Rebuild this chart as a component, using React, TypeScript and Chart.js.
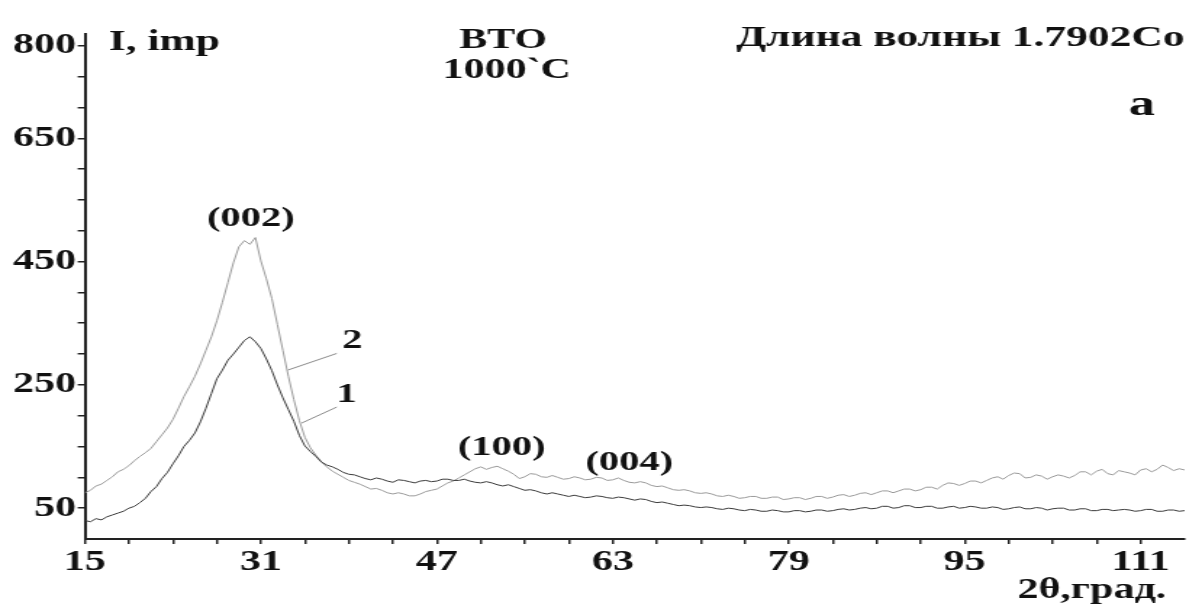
import { useEffect, useRef } from "react";
import { Chart, registerables } from "chart.js";

Chart.register(...registerables);

// 2θ positions (degrees) of the sampled diffraction profile
const twoTheta = [
  15, 15.5, 16, 16.5, 17, 17.5, 18, 18.5, 19, 19.5, 20, 20.5, 21, 21.5, 22, 22.5, 23, 23.5, 24, 24.5,
  25, 25.5, 26, 26.5, 27, 27.5, 28, 28.5, 29, 29.5, 30, 30.5, 31, 31.5, 32, 32.5, 33, 33.5, 34, 34.5,
  35, 35.5, 36, 36.5, 37, 37.5, 38, 38.5, 39, 39.5, 40, 40.5, 41, 41.5, 42, 42.5, 43, 43.5, 44, 44.5,
  45, 45.5, 46, 46.5, 47, 47.5, 48, 48.5, 49, 49.5, 50, 50.5, 51, 51.5, 52, 52.5, 53, 53.5, 54, 54.5,
  55, 55.5, 56, 56.5, 57, 57.5, 58, 58.5, 59, 59.5, 60, 60.5, 61, 61.5, 62, 62.5, 63, 63.5, 64, 64.5,
  65, 65.5, 66, 66.5, 67, 67.5, 68, 68.5, 69, 69.5, 70, 70.5, 71, 71.5, 72, 72.5, 73, 73.5, 74, 74.5,
  75, 75.5, 76, 76.5, 77, 77.5, 78, 78.5, 79, 79.5, 80, 80.5, 81, 81.5, 82, 82.5, 83, 83.5, 84, 84.5,
  85, 85.5, 86, 86.5, 87, 87.5, 88, 88.5, 89, 89.5, 90, 90.5, 91, 91.5, 92, 92.5, 93, 93.5, 94, 94.5,
  95, 95.5, 96, 96.5, 97, 97.5, 98, 98.5, 99, 99.5, 100, 100.5, 101, 101.5, 102, 102.5, 103, 103.5, 104, 104.5,
  105, 105.5, 106, 106.5, 107, 107.5, 108, 108.5, 109, 109.5, 110, 110.5, 111, 111.5, 112, 112.5, 113, 113.5, 114, 114.5,
  115,
];

// Curve 1 intensity, imp
const intensity1 = [
  30, 28, 33, 31, 36, 39, 42, 45, 50, 53, 59, 66, 77, 85, 98, 108, 122, 135, 150, 160,
  172, 190, 212, 236, 260, 274, 290, 300, 311, 322, 328, 320, 309, 292, 273, 250, 229, 210, 191, 168,
  151, 142, 134, 125, 120, 117, 113, 108, 105, 104, 101, 98, 96, 99, 97, 94, 92, 96, 95, 93,
  91, 94, 95, 93, 94, 97, 97, 95, 95, 97, 94, 92, 91, 93, 91, 88, 86, 88, 85, 82,
  79, 80, 78, 75, 73, 75, 73, 71, 69, 71, 69, 67, 68, 70, 69, 67, 66, 68, 67, 65,
  63, 65, 64, 61, 59, 60, 58, 56, 54, 55, 54, 52, 51, 52, 51, 49, 48, 50, 49, 47,
  46, 48, 47, 45, 45, 47, 46, 44, 44, 46, 46, 44, 45, 47, 47, 45, 46, 48, 49, 47,
  48, 50, 51, 49, 50, 53, 53, 50, 51, 54, 54, 51, 51, 53, 53, 50, 50, 52, 53, 50,
  51, 53, 52, 50, 50, 52, 51, 48, 49, 51, 52, 49, 49, 51, 50, 47, 49, 50, 50, 47,
  47, 49, 49, 46, 46, 48, 48, 46, 47, 48, 47, 45, 46, 48, 48, 45, 45, 47, 47, 45,
  46,
];

// Curve 2 intensity, imp
const intensity2 = [
  75, 79, 86, 89, 95, 101, 109, 113, 119, 127, 134, 140, 147, 158, 169, 180, 194, 212, 231, 247,
  264, 284, 306, 328, 354, 384, 416, 448, 474, 484, 478, 489, 451, 422, 390, 348, 306, 264, 226, 192,
  165, 148, 136, 125, 117, 110, 105, 100, 95, 92, 89, 85, 81, 82, 79, 75, 73, 75, 73, 70,
  70, 73, 77, 79, 81, 86, 91, 94, 99, 104, 109, 114, 117, 113, 116, 118, 114, 110, 105, 98,
  101, 106, 105, 101, 100, 103, 100, 97, 98, 101, 99, 96, 97, 100, 99, 95, 96, 99, 95, 92,
  91, 93, 91, 87, 85, 86, 83, 80, 79, 80, 78, 75, 74, 75, 73, 70, 69, 71, 69, 66,
  67, 69, 69, 66, 66, 68, 68, 64, 65, 67, 67, 64, 66, 69, 69, 66, 68, 71, 72, 69,
  71, 74, 75, 72, 75, 78, 78, 75, 78, 81, 81, 78, 80, 84, 84, 81, 87, 91, 90, 87,
  90, 94, 94, 91, 95, 99, 101, 97, 103, 107, 106, 99, 100, 104, 102, 97, 101, 104, 102, 99,
  103, 109, 109, 104, 110, 113, 106, 104, 111, 109, 107, 104, 112, 114, 109, 113, 120, 116, 111, 114,
  112,
];

// Axis ticks
const xTickValues = [15, 19, 23, 27, 31, 35, 39, 43, 47, 51, 55, 59, 63, 67, 71, 75, 79, 83, 87, 91, 95, 99, 103, 107, 111];
const xTickLabels = [15, 31, 47, 63, 79, 95, 111];
const yTickValues = [50, 100, 150, 200, 250, 300, 350, 400, 450, 500, 550, 600, 650, 700, 750, 800];
const yTickLabels = [50, 250, 450, 650, 800];

// Reflection indices, anchored at (2θ, intensity)
const peakNames = ["(002)", "(100)", "(004)"];
const peakAt2Theta = [30.1, 52.9, 64.5];
const peakLabelLevel = [507, 136, 112];

// Curve numbers with leader lines
const curveNames = ["2", "1"];
const curveLabelAt = [[39.3, 310], [38.8, 222]];
const leaderFrom = [[33.45, 274], [34.7, 188]];
const leaderTo = [[37.9, 301], [37.9, 214]];

// Canvas drawn narrow, then widened by CSS (wide serif lettering)
const DRAW_W = 820;
const DRAW_H = 615;
const SHOW_W = 1189;

const SERIF = '"Liberation Serif", "Times New Roman", serif';

const annotations = {
  id: "xrdAnnotations",
  afterDraw(chart: any) {
    const { ctx, scales } = chart;
    const xs = scales.x;
    const ys = scales.y;
    const px = (t: number) => xs.getPixelForValue(t);
    const py = (v: number) => ys.getPixelForValue(v);
    ctx.save();
    ctx.fillStyle = "#111";
    ctx.textBaseline = "alphabetic";

    // header
    ctx.font = `bold 30px ${SERIF}`;
    ctx.textAlign = "left";
    ctx.fillText("I, imp", 75, 50);
    ctx.font = `bold 29px ${SERIF}`;
    ctx.textAlign = "center";
    ctx.fillText("BTO", 347, 48);
    ctx.fillText("1000`C", 349.5, 78);
    ctx.font = `bold 30px ${SERIF}`;
    ctx.textAlign = "right";
    ctx.fillText("Длина волны 1.7902Co", 817, 46);

    ctx.font = `bold 36px ${SERIF}`;
    ctx.textAlign = "center";
    ctx.fillText("a", 787.5, 115);

    // x-axis title
    ctx.font = `bold 29px ${SERIF}`;
    ctx.fillText("2θ,град.", 753, 598);

    // reflections
    ctx.font = `bold 28px ${SERIF}`;
    peakNames.forEach((name, i) => {
      ctx.fillText(name, px(peakAt2Theta[i]), py(peakLabelLevel[i]));
    });

    // curve numbers and leaders
    ctx.strokeStyle = "#8a8a8a";
    ctx.lineWidth = 1;
    curveNames.forEach((name, i) => {
      ctx.beginPath();
      ctx.moveTo(px(leaderFrom[i][0]), py(leaderFrom[i][1]));
      ctx.lineTo(px(leaderTo[i][0]), py(leaderTo[i][1]));
      ctx.stroke();
      ctx.font = `bold 28px ${SERIF}`;
      ctx.fillText(name, px(curveLabelAt[i][0]), py(curveLabelAt[i][1]));
    });
    ctx.restore();
  },
};

export default function App() {
  const canvasRef = useRef<HTMLCanvasElement | null>(null);

  useEffect(() => {
    const canvas = canvasRef.current;
    if (!canvas) return;
    const tickFont = { family: SERIF, size: 29, weight: "bold" as const };
    const chart = new Chart(canvas, {
      type: "line",
      data: {
        datasets: [
          {
            label: "1",
            data: twoTheta.map((t, i) => ({ x: t, y: intensity1[i] })),
            borderColor: "#3a3a3a",
            borderWidth: 1,
            pointRadius: 0,
            tension: 0,
          },
          {
            label: "2",
            data: twoTheta.map((t, i) => ({ x: t, y: intensity2[i] })),
            borderColor: "#9a9a9a",
            borderWidth: 1,
            pointRadius: 0,
            tension: 0,
          },
        ],
      },
      options: {
        responsive: false,
        animation: false,
        events: [],
        layout: { padding: { top: 33.5, right: 3, bottom: 0, left: 0 } },
        plugins: {
          legend: { display: false },
          tooltip: { enabled: false },
          title: { display: false },
        },
        scales: {
          x: {
            type: "linear",
            min: 15,
            max: 115,
            afterBuildTicks: (scale: any) => {
              scale.ticks = xTickValues.map((v) => ({ value: v }));
            },
            afterFit: (scale: any) => {
              scale.height = 76;
            },
            ticks: {
              autoSkip: false,
              maxRotation: 0,
              padding: 1,
              color: "#111",
              font: tickFont,
              callback: (v: any) => (xTickLabels.includes(Number(v)) ? String(v) : ""),
            },
            grid: {
              display: true,
              drawOnChartArea: false,
              drawTicks: true,
              tickLength: 5,
              color: "#222",
              lineWidth: 1.5,
            },
            border: { display: true, color: "#222", width: 2 },
          },
          y: {
            type: "linear",
            min: 0,
            max: 820,
            afterBuildTicks: (scale: any) => {
              scale.ticks = yTickValues.map((v) => ({ value: v }));
            },
            afterFit: (scale: any) => {
              scale.width = 58.6;
            },
            ticks: {
              autoSkip: false,
              padding: 1,
              color: "#111",
              font: tickFont,
              callback: (v: any) => (yTickLabels.includes(Number(v)) ? String(v) : ""),
            },
            grid: {
              display: true,
              drawOnChartArea: false,
              drawTicks: true,
              tickLength: 5,
              color: "#222",
              lineWidth: 1.5,
            },
            border: { display: true, color: "#222", width: 2 },
          },
        },
      },
      plugins: [annotations],
    });
    return () => chart.destroy();
  }, []);

  return (
    <canvas
      ref={canvasRef}
      width={DRAW_W}
      height={DRAW_H}
      style={{
        position: "absolute",
        left: 0,
        top: 0,
        width: `${SHOW_W}px`,
        height: `${DRAW_H}px`,
        background: "#fff",
      }}
    />
  );
}
